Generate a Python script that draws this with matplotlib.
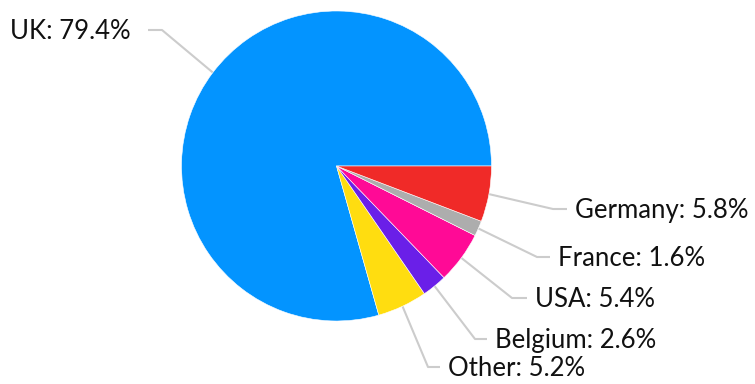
import numpy as np
import matplotlib
matplotlib.use("Agg")
import matplotlib.pyplot as plt

# Data
categories = ["UK", "Other", "Belgium", "USA", "France", "Germany"]
values = [79.4, 5.2, 2.6, 5.4, 1.6, 5.8]
colors = ["#0394FF", "#FFDD10", "#6A1FE8", "#FF0A96", "#ADADAD", "#F02A28"]

W, H = 755, 384
plt.rcParams['font.family'] = ['Lato', 'DejaVu Sans']

fig = plt.figure(figsize=(W / 100, H / 100), dpi=100)
ax = fig.add_axes([0, 0, 1, 1])

def py(y):
    return H - y

cx, cy, r = 336.5, 166.0, 155.0
wedges, _ = ax.pie(values, colors=colors, startangle=0, counterclock=True,
                   center=(cx, py(cy)), radius=r, frame=True,
                   wedgeprops=dict(edgecolor='white', linewidth=0.4))
ax.set_xlim(0, W)
ax.set_ylim(0, H)
ax.set_aspect('equal')
ax.axis('off')

# label layout (pixel coords): elbow point, line end x, side
layout = {
    "UK":      ((162, 30), 148, 'right'),
    "Germany": ((553, 209), 567, 'left'),
    "France":  ((537, 257), 550, 'left'),
    "USA":     ((512, 298), 527, 'left'),
    "Belgium": ((475, 339), 487, 'left'),
    "Other":   ((428, 367), 440, 'left'),
}

for w, name, v in zip(wedges, categories, values):
    mid = np.deg2rad((w.theta1 + w.theta2) / 2)
    sx = cx + r * np.cos(mid)
    sy = cy - r * np.sin(mid)
    (ex, ey), endx, side = layout[name]
    ax.plot([sx, ex, endx], [py(sy), py(ey), py(ey)], color='#CCCCCC',
            lw=1.5, solid_capstyle='butt', zorder=0)
    if side == 'left':
        tx, ha = endx + 8, 'left'
    else:
        tx, ha = endx - 17, 'right'
    ax.text(tx, py(ey + 9), f"{name}: {v}%", ha=ha, va='baseline',
            fontsize=18.5, color='#111111')

fig.savefig("out.png", dpi=100)
